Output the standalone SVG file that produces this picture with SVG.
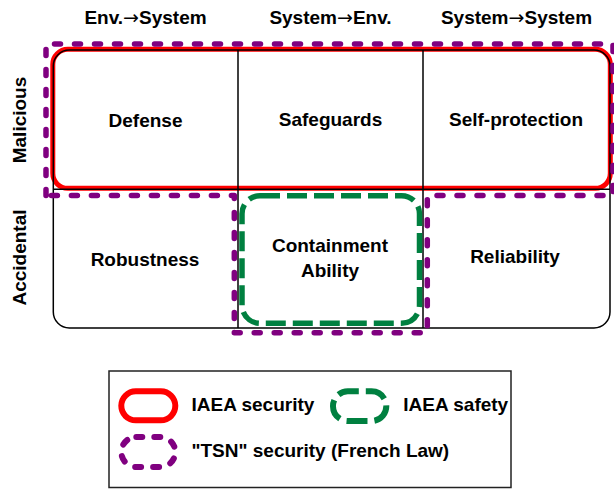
<svg xmlns="http://www.w3.org/2000/svg" width="614" height="489" viewBox="0 0 614 489">
  <defs>
    <style>
      text { font-family: "Liberation Sans", Arial, sans-serif; font-weight: bold; font-size: 19px; fill: #000; }
      .arrow { font-family: "DejaVu Sans", sans-serif; font-weight: normal; }
      .mid { text-anchor: middle; }
      .grid { fill: none; stroke: #000; stroke-width: 1.5; }
      .iaea-sec { fill: none; stroke: #ff0000; stroke-width: 5; }
      .iaea-safe { fill: none; stroke: #008040; stroke-width: 5.5; stroke-dasharray: 20 7; }
      .tsn { fill: none; stroke: #800080; stroke-width: 5.5; stroke-dasharray: 6 14; stroke-linecap: round; stroke-linejoin: round; }
    </style>
  </defs>
  <rect width="614" height="489" fill="#fff"/>

  <!-- column headers -->
  <g id="headers">
    <text class="mid" x="145.5" y="23.5">Env.<tspan class="arrow">→</tspan>System</text>
    <text class="mid" x="330.5" y="23.5">System<tspan class="arrow">→</tspan>Env.</text>
    <text class="mid" x="516.5" y="23.5">System<tspan class="arrow">→</tspan>System</text>
  </g>

  <!-- row headers -->
  <g id="rows">
    <text class="mid" transform="translate(25.5,120) rotate(-90)">Malicious</text>
    <text class="mid" transform="translate(25.5,257.5) rotate(-90)">Accidental</text>
  </g>

  <!-- IAEA security region: malicious row -->
  <g id="region-iaea-security">
    <rect class="iaea-sec" x="52.8" y="49.3" width="557.5" height="139" rx="15"/>
  </g>

  <!-- table grid -->
  <g id="table">
    <rect class="grid" x="53.3" y="50" width="556.7" height="278" rx="16"/>
    <line class="grid" x1="53.3" y1="189.3" x2="610" y2="189.3"/>
    <line class="grid" x1="238" y1="50" x2="238" y2="328"/>
    <line class="grid" x1="423" y1="50" x2="423" y2="328"/>
  </g>

  <!-- IAEA safety region: containment cell -->
  <g id="region-iaea-safety">
    <rect class="iaea-safe" x="242" y="195.7" width="177.5" height="127.6" rx="18"/>
  </g>

  <!-- TSN security region -->
  <g id="region-tsn">
    <path class="tsn" d="M46 195.5 L46 44 L613 44 L613 195.5 L427.3 195.5 L427.3 332.7 L234.3 332.7 L234.3 195.5 Z"/>
  </g>

  <!-- cells -->
  <g id="cell-defense"><text class="mid" x="145.5" y="127">Defense</text></g>
  <g id="cell-safeguards"><text class="mid" x="330.5" y="125.5">Safeguards</text></g>
  <g id="cell-self-protection"><text class="mid" x="516" y="125.5">Self-protection</text></g>
  <g id="cell-robustness"><text class="mid" x="145" y="266">Robustness</text></g>
  <g id="cell-containment">
    <text class="mid" x="330" y="251.7">Containment</text>
    <text class="mid" x="330" y="276.7">Ability</text>
  </g>
  <g id="cell-reliability"><text class="mid" x="515" y="263.3">Reliability</text></g>

  <!-- legend -->
  <g id="legend">
    <rect x="109" y="371" width="402" height="116.5" fill="#fff" stroke="#222" stroke-width="1.5"/>
    <rect x="121.3" y="391.3" width="54" height="29" rx="14.5" fill="none" stroke="#ff0000" stroke-width="6"/>
    <text x="191.5" y="410.7">IAEA security</text>
    <rect x="333" y="391.3" width="53.3" height="29.7" rx="14.8" fill="none" stroke="#008040" stroke-width="6" stroke-dasharray="21 7" stroke-dashoffset="10"/>
    <text x="403.3" y="410.7">IAEA safety</text>
    <rect x="121.3" y="437" width="54" height="30" rx="15" fill="none" stroke="#800080" stroke-width="6" stroke-dasharray="6 12" stroke-linecap="round"/>
    <text x="191.5" y="456.7">"TSN" security (French Law)</text>
  </g>
</svg>
